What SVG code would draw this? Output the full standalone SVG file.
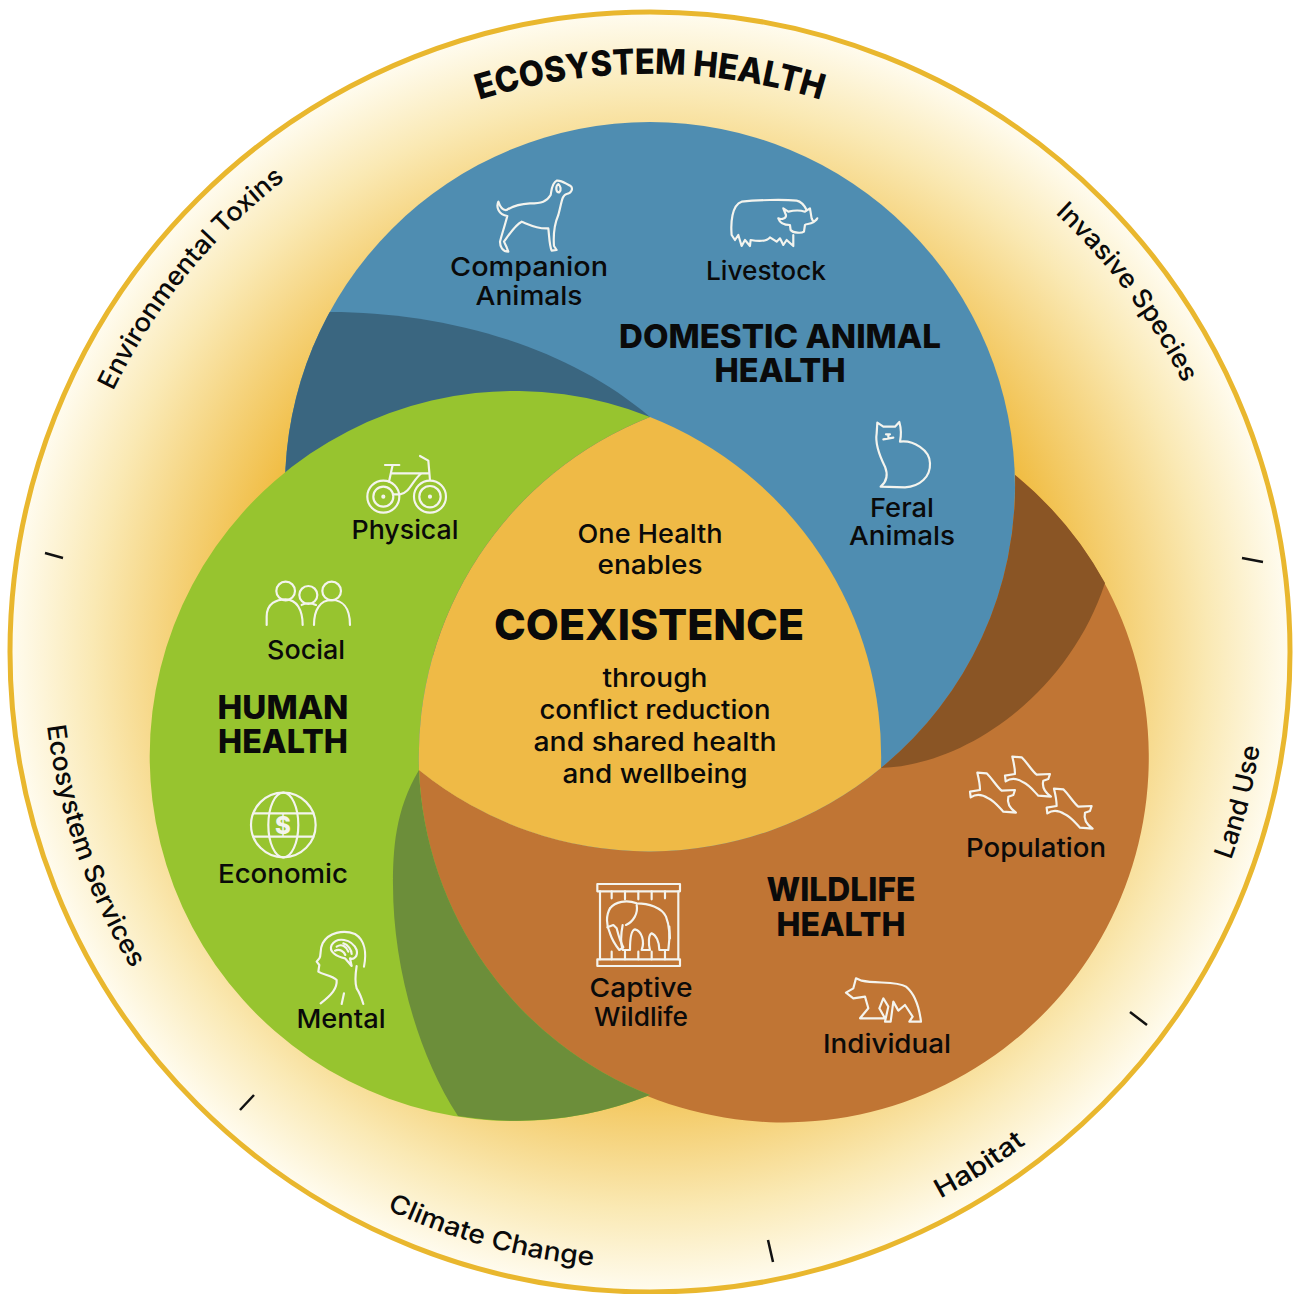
<svg xmlns="http://www.w3.org/2000/svg" width="1294" height="1294" viewBox="0 0 1294 1294">
<style>
text{font-family:"Inter","Liberation Sans",sans-serif;fill:#0a0a0a;text-anchor:middle}
.l{font-size:26px;font-weight:500}
.h{font-size:33px;font-weight:800}
.c{font-size:26px;font-weight:500}
.i{fill:none;stroke:#f4f4ee;stroke-width:6.5;stroke-linejoin:round;stroke-linecap:round}
.t{stroke:#111;stroke-width:2.5}
</style>
<defs>
<radialGradient id="bg" gradientUnits="userSpaceOnUse" cx="650" cy="652" r="641">
<stop offset="0.62" stop-color="#F0BA3C"/>
<stop offset="0.75" stop-color="#F5D27A"/>
<stop offset="0.87" stop-color="#FAE9B4"/>
<stop offset="1" stop-color="#FFFCF0"/>
</radialGradient>
<path id="p0" d="M72 652A578 578 0 0 1 1228 652"/>
<path id="p1" d="M64 765A597 597 0 0 1 641 55"/>
<path id="p2" d="M681 56A597 597 0 0 1 1232 786"/>
<path id="p3" d="M918 1208A617 617 0 0 0 1151 292"/>
<path id="p4" d="M466 1243A619 619 0 0 0 1264 731"/>
<path id="p5" d="M90 910A617 617 0 0 0 1001 1159"/>
<path id="p6" d="M128 341A608 608 0 0 0 434 1220"/>
<clipPath id="cb"><circle cx="650" cy="487" r="365"/></clipPath>
</defs>
<g id="ecosystem-ring">
<circle cx="650" cy="652" r="640" fill="url(#bg)" stroke="#E9B72E" stroke-width="5"/>
<text style="font-size:35px;font-weight:800"><textPath href="#p0" startOffset="50%" textLength="347" lengthAdjust="spacingAndGlyphs">ECOSYSTEM HEALTH</textPath></text>
<text class="c"><textPath href="#p1" startOffset="50%" textLength="275" lengthAdjust="spacingAndGlyphs">Environmental Toxins</textPath></text>
<text class="c"><textPath href="#p2" startOffset="50%" textLength="214" lengthAdjust="spacingAndGlyphs">Invasive Species</textPath></text>
<text class="c"><textPath href="#p3" startOffset="50%" textLength="117" lengthAdjust="spacingAndGlyphs">Land Use</textPath></text>
<text class="c"><textPath href="#p4" startOffset="50%" textLength="102" lengthAdjust="spacingAndGlyphs">Habitat</textPath></text>
<text class="c"><textPath href="#p5" startOffset="50%" textLength="215" lengthAdjust="spacingAndGlyphs">Climate Change</textPath></text>
<text class="c"><textPath href="#p6" startOffset="50%" textLength="259" lengthAdjust="spacingAndGlyphs">Ecosystem Services</textPath></text>
<path class="t" d="M45 553L63 558M1242 558L1263 562M1130 1012L1147 1025M768 1240L773 1262M240 1110L254 1095"/>
</g>
<g id="domestic-animal-health">
<circle cx="650" cy="487" r="365" fill="#4F8DB1"/>
<path clip-path="url(#cb)" d="M320 312C430 310 560 340 650 417L500 700L200 500Z" fill="#3A6680"/>
<g transform="translate(430 160) scale(.3333)" class="i">
<path d="M205 125C198 140 205 165 232 168C225 195 215 225 210 245C210 260 218 275 235 275L230 262L222 245C240 220 255 195 275 185C300 195 325 208 355 205C358 230 358 255 365 272L380 270L372 258C370 230 372 195 385 165C395 130 395 105 410 102C425 100 430 85 422 78C405 70 395 60 380 62C365 70 365 90 362 105C350 125 335 130 300 130C270 132 245 140 230 150C218 152 210 140 205 125Z"/>
<path d="M385 72C375 80 378 98 388 97C395 90 392 78 385 72Z"/>
<path d="M1130 150C1125 140 1115 125 1100 122C1060 118 980 120 935 125C905 135 902 190 905 225L915 240L925 225L935 258L945 240L960 258L962 240C990 245 1010 245 1020 232L1040 245L1050 235L1060 255L1070 240L1090 258L1090 225"/>
<path d="M1060 145L1075 155C1095 150 1110 150 1125 155L1140 145L1145 175C1150 190 1160 180 1162 175C1150 195 1130 190 1125 195L1122 215C1115 220 1090 220 1082 210L1080 195C1065 195 1050 190 1045 175C1055 180 1070 175 1068 165Z"/>
</g>
<g transform="translate(840 400) scale(.3333)" class="i">
<path d="M112 68L130 80L165 80L178 66C185 90 182 115 180 125C220 120 270 150 270 190C272 230 240 260 195 262L122 260C140 245 145 225 135 200C120 170 105 130 110 100Z"/>
<path d="M138 103L150 103M145 103L145 112M130 118L160 113"/>
</g>
<text class="l" x="529" y="276" textLength="158" lengthAdjust="spacingAndGlyphs">Companion</text>
<text class="l" x="529" y="305" textLength="107" lengthAdjust="spacingAndGlyphs">Animals</text>
<text class="l" x="766" y="280" textLength="120" lengthAdjust="spacingAndGlyphs">Livestock</text>
<text class="h" x="780" y="348" textLength="322" lengthAdjust="spacingAndGlyphs">DOMESTIC ANIMAL</text>
<text class="h" x="780" y="382" textLength="131" lengthAdjust="spacingAndGlyphs">HEALTH</text>
<text class="l" x="902" y="517" textLength="64" lengthAdjust="spacingAndGlyphs">Feral</text>
<text class="l" x="902" y="545" textLength="106" lengthAdjust="spacingAndGlyphs">Animals</text>
</g>
<g id="wildlife-health">
<path d="M1015 475A365 365 0 1 1 419 770A365 365 0 0 0 881 768A365 365 0 0 0 1015 475Z" fill="#C07534"/>
<path d="M881 768A365 365 0 0 0 1015 475A365 365 0 0 1 1105 583C1070 690 970 765 881 768Z" fill="#8A5525"/>
<g transform="translate(570 870) scale(.3333)" class="i">
<rect x="82" y="42" width="248" height="22"/><rect x="82" y="268" width="248" height="20"/>
<path d="M90 64V268M325 64V268M125 64V85M165 64V88M205 64V88M245 64V88M285 64V85M125 245V268M165 245V268M205 245V268M245 245V268M285 245V268"/>
<path d="M120 115C135 95 170 88 200 100C235 100 275 112 288 140C300 170 300 205 295 240H268C268 215 258 195 245 190C235 195 235 220 240 240H215C225 215 215 182 195 178C182 180 180 215 180 240H158C150 215 155 180 158 165"/>
<path d="M120 115C108 135 108 165 120 190C128 215 140 230 148 240L160 232C150 215 145 195 140 175L130 165L112 172"/>
<path d="M200 105C205 130 190 155 168 165"/>
<path d="M298 170L300 205"/>
</g>
<g transform="translate(820 740) scale(.3333)" class="i">
<path d="M450 155L480 150C480 130 475 110 472 98L500 100C520 120 530 140 545 152L585 150L580 165L565 170C560 190 570 205 588 218L550 215C535 200 525 185 505 175C490 165 470 160 452 172Z"/>
<path d="M555 107L585 102C585 82 580 62 577 50L605 52C625 72 635 92 650 104L690 102L685 117L670 122C665 142 675 157 693 170L655 167C640 152 630 137 610 127C595 117 575 112 557 124Z"/>
<path d="M680 203L710 198C710 178 705 158 702 146L730 148C750 168 760 188 775 200L815 198L810 213L795 218C790 238 800 253 818 266L780 263C765 248 755 233 735 223C720 213 700 208 682 220Z"/>
<path d="M78 758L100 745L108 715L125 722C170 732 230 722 258 740C285 762 298 805 303 845H268L278 830L255 795L235 812L220 785L212 845H195L205 800L190 775L178 805L195 835H120L145 805L135 770L100 775Z"/>
</g>
<text class="l" x="1036" y="857" textLength="140" lengthAdjust="spacingAndGlyphs">Population</text>
<text class="h" x="841" y="901" textLength="149" lengthAdjust="spacingAndGlyphs">WILDLIFE</text>
<text class="h" x="841" y="936" textLength="129" lengthAdjust="spacingAndGlyphs">HEALTH</text>
<text class="l" x="641" y="997" textLength="103" lengthAdjust="spacingAndGlyphs">Captive</text>
<text class="l" x="641" y="1026" textLength="94" lengthAdjust="spacingAndGlyphs">Wildlife</text>
<text class="l" x="887" y="1053" textLength="128" lengthAdjust="spacingAndGlyphs">Individual</text>
</g>
<g id="human-health">
<path d="M650 417A365 365 0 1 0 650 1095A365 365 0 0 1 419 770A365 365 0 0 1 650 417Z" fill="#97C42F"/>
<path d="M419 770C395 810 393 850 393 885C393 960 415 1050 458 1116A365 365 0 0 0 650 1095A365 365 0 0 1 419 770Z" fill="#6C8E3A"/>
<g transform="translate(240 440) scale(.3333)" class="i">
<circle cx="430" cy="170" r="48"/><circle cx="430" cy="170" r="30"/><circle cx="430" cy="170" r="3"/>
<circle cx="570" cy="170" r="48"/><circle cx="570" cy="170" r="32"/><circle cx="570" cy="170" r="3"/>
<path d="M435 75H478M458 75L447 125M455 100H568M540 48L565 62L570 120M545 100C520 115 510 160 480 163H460"/>
<circle cx="137" cy="453" r="28"/><circle cx="205" cy="465" r="27"/><circle cx="275" cy="453" r="28"/>
<path d="M80 555V530C80 490 110 478 137 478C170 478 188 510 188 555M222 555C222 510 240 480 275 480C305 480 330 500 330 555M185 495C195 488 215 488 228 495"/>
</g>
<g transform="translate(200 780) scale(.3333)" class="i">
<circle cx="250" cy="135" r="97"/><ellipse cx="250" cy="135" rx="45" ry="97"/>
<path d="M160 100H340M160 170H340"/>
<path d="M492 560C500 520 495 480 465 462C430 448 385 458 368 490C358 510 365 525 358 535L350 545L358 555L355 575C370 585 395 585 410 600C412 625 395 645 362 670M470 558C465 590 465 610 470 625C480 640 485 655 490 672M432 640L425 672"/>
<path d="M395 495C410 470 455 475 470 510C475 530 460 540 450 535L455 558L435 535C410 530 385 515 395 495ZM410 500C425 490 440 500 445 515M430 490C445 495 455 510 455 522M405 512C420 505 432 515 436 525"/>
</g>
<text x="283" y="834" style="font-size:24px;font-weight:800;fill:#f4f4ee">$</text>
<text class="l" x="405" y="539" textLength="107" lengthAdjust="spacingAndGlyphs">Physical</text>
<text class="l" x="306" y="659" textLength="78" lengthAdjust="spacingAndGlyphs">Social</text>
<text class="h" x="283" y="719" textLength="131" lengthAdjust="spacingAndGlyphs">HUMAN</text>
<text class="h" x="283" y="753" textLength="130" lengthAdjust="spacingAndGlyphs">HEALTH</text>
<text class="l" x="283" y="883" textLength="130" lengthAdjust="spacingAndGlyphs">Economic</text>
<text class="l" x="341" y="1028" textLength="89" lengthAdjust="spacingAndGlyphs">Mental</text>
</g>
<g id="coexistence">
<path d="M650 417A365 365 0 0 1 881 768A365 365 0 0 1 419 770A365 365 0 0 1 650 417Z" fill="#EFBA46"/>
<text class="l" x="650" y="543" textLength="145" lengthAdjust="spacingAndGlyphs">One Health</text>
<text class="l" x="650" y="574" textLength="105" lengthAdjust="spacingAndGlyphs">enables</text>
<text x="649" y="640" textLength="310" lengthAdjust="spacingAndGlyphs" style="font-size:43px;font-weight:800">COEXISTENCE</text>
<text class="l" x="655" y="687" textLength="105" lengthAdjust="spacingAndGlyphs">through</text>
<text class="l" x="655" y="719" textLength="231" lengthAdjust="spacingAndGlyphs">conflict reduction</text>
<text class="l" x="655" y="751" textLength="243" lengthAdjust="spacingAndGlyphs">and shared health</text>
<text class="l" x="655" y="783" textLength="185" lengthAdjust="spacingAndGlyphs">and wellbeing</text>
</g>
</svg>
